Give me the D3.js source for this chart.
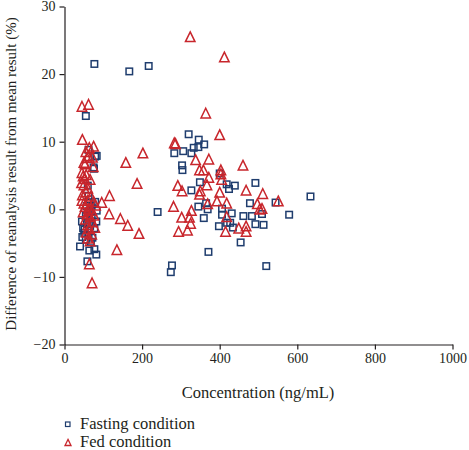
<!DOCTYPE html>
<html>
<head>
<meta charset="utf-8">
<script src="https://cdn.jsdelivr.net/npm/d3@7"></script>
<style>
  html, body { margin: 0; padding: 0; background: #fff; }
  svg { display: block; }
  svg text { font-family: "Liberation Serif", "Times New Roman", Times, serif !important; fill: #231f20; }
</style>
</head>
<body>
<svg id="chart" width="469" height="450"></svg>
<script>
// ---- data ----
const xTicks = [0, 200, 400, 600, 800, 1000];
const yTicks = [-20, -10, 0, 10, 20, 30];
const seriesNames = ["Fasting condition", "Fed condition"];

const fastingX = [77,55,62,83,79,76,75,60,62,65,79,83,60,55,70,82,45,58,66,77,52,51,62,46,72,55,68,40,64,77,82,59,48,57,63,70,
  167,217,320,346,360,333,345,283,306,327,303,304,349,400,418,439,424,492,327,478,544,240,345,369,365,406,406,431,359,461,483,509,398,419,434,427,492,513,454,371,634,579,520,277,274];
const fastingY = [21.5,13.8,8.8,7.9,7.8,6.0,6.2,3.5,2.0,1.0,1.1,-0.2,-0.5,-1.0,-1.2,-1.8,-1.8,-2.2,-2.5,-2.8,-3.0,-3.5,-3.8,-4.1,-4.2,-4.5,-4.8,-5.5,-6.1,-5.9,-6.7,-7.7,-2.8,0.5,-0.3,0.5,
  20.4,21.2,11.1,10.3,9.6,9.1,9.2,8.3,8.6,8.3,6.5,5.8,4.0,5.3,3.7,3.5,3.0,3.9,2.8,0.9,1.0,-0.4,0.4,0.0,0.9,0.1,-0.8,-0.6,-1.3,-1.0,-1.0,-0.7,-2.5,-2.0,-2.7,-2.0,-2.2,-2.3,-4.9,-6.3,1.9,-0.8,-8.4,-8.3,-9.3];

const fedX = [45,62,46,75,64,55,62,58,72,50,53,74,45,48,56,52,66,44,50,60,55,46,68,60,50,75,53,62,70,48,58,66,54,72,60,64,56,70,60,66,64,71,76,80,78,45,
  96,116,115,144,163,192,135,187,158,202,
  324,412,364,400,283,286,338,372,348,358,372,403,403,405,460,292,303,367,350,348,400,468,511,393,418,281,327,369,497,302,322,325,418,294,317,415,449,468,468,503,551,509];
const fedY = [15.1,15.4,10.2,9.2,9.0,8.4,7.8,7.5,7.6,6.8,6.6,6.2,5.3,4.8,5.0,4.4,4.3,3.8,3.5,3.0,2.5,2.0,1.8,1.2,0.8,1.0,0.3,0.0,-0.3,-0.5,-0.8,-1.2,-1.6,-2.0,-2.4,-3.0,-3.5,-3.8,-4.4,-4.8,-8.2,-11.0,-1.0,0.5,-2.8,1.2,
  0.9,1.9,-0.8,-1.5,-2.5,-3.7,-6.1,3.7,6.8,8.2,
  25.4,22.4,14.1,10.9,9.7,9.6,7.2,7.3,5.7,5.7,4.6,5.7,5.1,4.3,6.4,3.4,2.6,3.5,2.6,2.1,2.4,2.7,2.2,1.1,0.8,0.3,-0.3,0.7,0.7,-1.3,-1.3,-2.2,-1.2,-3.4,-3.2,-3.4,-2.9,-3.4,-2.6,-0.1,1.1,0.0];

// ---- layout ----
const svg = d3.select("#chart");
const x = d3.scaleLinear().domain([0, 1000]).range([64.5, 452.5]);
const y = d3.scaleLinear().domain([-20, 30]).range([344.5, 6.5]);
const blue = "#1f3d6e";
const red = "#c8262c";

// axes
const xAxis = d3.axisBottom(x).tickValues(xTicks).tickSize(5).tickPadding(4).tickSizeOuter(0)
  .tickFormat(d => String(d));
const yAxis = d3.axisLeft(y).tickValues(yTicks).tickSize(5).tickPadding(4).tickSizeOuter(0)
  .tickFormat(d => d < 0 ? "\u2212" + Math.abs(d) : String(d));

const gx = svg.append("g").attr("transform", `translate(0,${y(-20)})`).call(xAxis);
const gy = svg.append("g").attr("transform", `translate(${x(0)},0)`).call(yAxis);
[gx, gy].forEach(g => {
  g.attr("font-family", null).attr("font-size", null);
  g.selectAll("path, line").attr("stroke", "#231f20").attr("stroke-width", 1.2);
  g.selectAll("text").style("font-size", "14px").attr("fill", "#231f20");
});

// axis titles
svg.append("text").attr("x", 258).attr("y", 398).attr("text-anchor", "middle")
  .style("font-size", "16.5px").text("Concentration (ng/mL)");
svg.append("text").attr("transform", `translate(16,174) rotate(-90)`).attr("text-anchor", "middle")
  .style("font-size", "15px").text("Difference of reanalysis result from mean result (%)");

// markers
const fasting = fastingX.map((v, i) => ({x: v, y: fastingY[i]}));
const fed = fedX.map((v, i) => ({x: v, y: fedY[i]}));
const sq = 6.5;
const tri = (cx, cy, s) => `M${cx},${cy - s * 0.6}L${cx + s / 2},${cy + s * 0.42}L${cx - s / 2},${cy + s * 0.42}Z`;

svg.append("g").selectAll("rect").data(fasting).join("rect")
  .attr("x", d => x(d.x) - sq / 2).attr("y", d => y(d.y) - sq / 2)
  .attr("width", sq).attr("height", sq)
  .attr("fill", "none").attr("stroke", blue).attr("stroke-width", 1.5);

svg.append("g").selectAll("path").data(fed).join("path")
  .attr("d", d => tri(x(d.x), y(d.y), 9.5))
  .attr("fill", "none").attr("stroke", red).attr("stroke-width", 1.5).attr("stroke-linejoin", "miter");

// legend
const lg = svg.append("g");
lg.append("rect").attr("x", 65.5).attr("y", 422).attr("width", 4.5).attr("height", 4.5)
  .attr("fill", "none").attr("stroke", blue).attr("stroke-width", 1.2);
lg.append("path").attr("d", tri(68, 443, 6)).attr("fill", "none").attr("stroke", red).attr("stroke-width", 1.3);
lg.append("text").attr("x", 80).attr("y", 429).style("font-size", "16.5px").text(seriesNames[0]);
lg.append("text").attr("x", 80).attr("y", 447).style("font-size", "16.5px").text(seriesNames[1]);
</script>
</body>
</html>
